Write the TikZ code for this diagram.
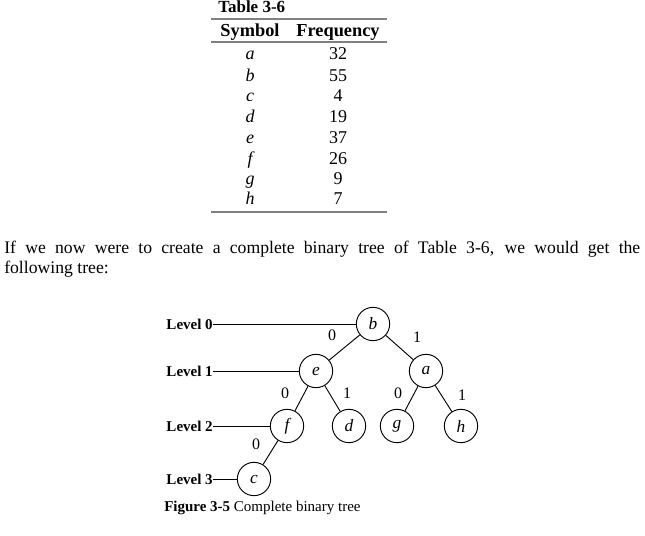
\documentclass[tikz,border=0pt]{standalone}
\usepackage{fontspec}
\setmainfont{Liberation Serif}
\begin{document}
\begin{tikzpicture}[x=0.75pt,y=-0.75pt,
  tnode/.style={circle,draw,line width=0.7pt,minimum size=25pt,inner sep=0pt,font=\fontsize{13}{14}\selectfont\itshape},
  tab/.style={font=\fontsize{13.5}{15}\selectfont,anchor=base,inner sep=0pt},
  tabb/.style={font=\fontsize{13.75}{15}\selectfont\bfseries,anchor=base,inner sep=0pt},
  tabi/.style={font=\fontsize{13.5}{15}\selectfont\itshape,anchor=base,inner sep=0pt},
  lvl/.style={font=\fontsize{11.25}{12}\selectfont\bfseries,anchor=east,inner sep=0pt},
  elab/.style={font=\fontsize{12}{13}\selectfont,inner sep=0pt},
  para/.style={font=\fontsize{13.25}{15}\selectfont,anchor=base west,inner sep=0pt},
  capt/.style={font=\fontsize{11.25}{13}\selectfont,anchor=base west,inner sep=0pt},
  thickrule/.style={draw=gray,line width=2pt},
  thinrule/.style={draw=gray,line width=1pt},
  edge/.style={line width=0.7pt},
  lvlline/.style={line width=0.7pt}]
\useasboundingbox (0,0) rectangle (645,535);
% table
\node[tabb,anchor=base west,font=\fontsize{12.75}{14}\selectfont\bfseries] (ttitle) at (218,13) {Table 3-6};
\draw[thickrule] (211,19) -- (387,19);
\node[tabb] (hsym) at (250,37) {Symbol};
\node[tabb] (hfreq) at (338,37) {Frequency};
\draw[thinrule] (211,42) -- (387,42);
\node[tabi] (sa) at (250,60) {a};   \node[tab] (fa) at (338,60) {32};
\node[tabi] (sb) at (250,81) {b};   \node[tab] (fb) at (338,81) {55};
\node[tabi] (sc) at (250,101) {c};  \node[tab] (fc) at (338,101) {4};
\node[tabi] (sd) at (250,122) {d};  \node[tab] (fd) at (338,122) {19};
\node[tabi] (se) at (250,143) {e};  \node[tab] (fe) at (338,143) {37};
\node[tabi] (sf) at (250,164) {f};  \node[tab] (ff) at (338,164) {26};
\node[tabi] (sg) at (250,184) {g};  \node[tab] (fg) at (338,184) {9};
\node[tabi] (sh) at (250,204) {h};  \node[tab] (fh) at (338,204) {7};
\draw[thickrule] (211,212) -- (387,212);
% paragraph
\node[para] (p1) at (4,253) {\makebox[477pt][s]{If we now were to create a complete binary tree of Table 3-6, we would get the}};
\node[para] (p2) at (4,273) {following tree:};
% tree
\node[tnode] (b) at (373,324) {b};
\node[tnode] (e) at (316,371) {e};
\node[tnode] (a) at (426,371) {a};
\node[tnode] (f) at (287,426) {f};
\node[tnode] (d) at (349,426) {d};
\node[tnode] (g) at (397,426) {g};
\node[tnode] (h) at (461,426) {h};
\node[tnode] (c) at (254,479) {c};
\draw[edge] (b) -- (e);
\draw[edge] (b) -- (a);
\draw[edge] (e) -- (f);
\draw[edge] (e) -- (d);
\draw[edge] (a) -- (g);
\draw[edge] (a) -- (h);
\draw[edge] (f) -- (c);
\node[elab] (l1) at (332,335) {0};
\node[elab] (l2) at (417,337) {1};
\node[elab] (l3) at (285,393) {0};
\node[elab] (l4) at (347,393) {1};
\node[elab] (l5) at (398,393) {0};
\node[elab] (l6) at (462,395) {1};
\node[elab] (l7) at (256,444) {0};
% levels
\node[lvl] (lv0) at (213,324) {Level 0};
\node[lvl] (lv1) at (213,371) {Level 1};
\node[lvl] (lv2) at (213,426) {Level 2};
\node[lvl] (lv3) at (213,479) {Level 3};
\draw[lvlline] (lv0.east) -- (b.west);
\draw[lvlline] (lv1.east) -- (e.west);
\draw[lvlline] (lv2.east) -- (f.west);
\draw[lvlline] (lv3.east) -- (c.west);
% caption
\node[capt] (cap) at (164,511) {\textbf{Figure 3-5} Complete binary tree};
\end{tikzpicture}
\end{document}
